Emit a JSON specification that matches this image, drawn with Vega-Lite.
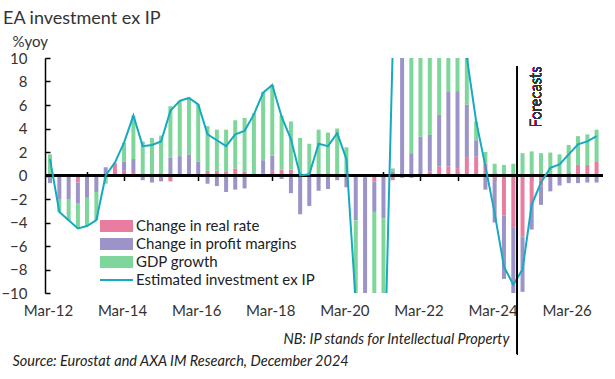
{
  "$schema": "https://vega.github.io/schema/vega-lite/v6.json",
  "width": 558,
  "height": 235,
  "autosize": "none",
  "padding": {"left": 45, "top": 58, "right": 12, "bottom": 86},
  "background": "white",
  "config": {"view": {"stroke": null}, "font": "Lato", "axis": {"grid": false, "labelOverlap": false}, "axisY": {"labelOverlap": false, "tickCount": 12, "values": [-10, -8, -6, -4, -2, 0, 2, 4, 6, 8, 10]}},
  "title": {"text": "EA investment ex IP", "anchor": "start", "frame": "group", "dx": -42, "dy": 21, "offset": 13, "baseline": "alphabetic", "fontSize": 18, "font": "Lato", "fontWeight": "normal", "color": "#333333"},
  "data": {"values": [
    {"t": "2012-03-01T00:00:00", "real": 0, "profit": -0.65, "gdp": 1.8, "inv": 1.4},
    {"t": "2012-06-01T00:00:00", "real": 0, "profit": -2.0, "gdp": -1.1, "inv": -3.1},
    {"t": "2012-09-01T00:00:00", "real": 0, "profit": -2.0, "gdp": -1.8, "inv": -3.8},
    {"t": "2012-12-01T00:00:00", "real": -0.6, "profit": -1.8, "gdp": -2.1, "inv": -4.5},
    {"t": "2013-03-01T00:00:00", "real": 0, "profit": -1.9, "gdp": -2.4, "inv": -4.3},
    {"t": "2013-06-01T00:00:00", "real": 0, "profit": -1.4, "gdp": -2.4, "inv": -3.8},
    {"t": "2013-09-01T00:00:00", "real": 0, "profit": 0.7, "gdp": -0.7, "inv": 0.0},
    {"t": "2013-12-01T00:00:00", "real": 1.0, "profit": 0, "gdp": 0.1, "inv": 1.1},
    {"t": "2014-03-01T00:00:00", "real": 0.4, "profit": 0.8, "gdp": 1.6, "inv": 2.8},
    {"t": "2014-06-01T00:00:00", "real": 0.3, "profit": 1.1, "gdp": 3.7, "inv": 5.1},
    {"t": "2014-09-01T00:00:00", "real": 0, "profit": -0.4, "gdp": 2.9, "inv": 2.5},
    {"t": "2014-12-01T00:00:00", "real": 0, "profit": -0.6, "gdp": 3.2, "inv": 2.6},
    {"t": "2015-03-01T00:00:00", "real": 0, "profit": -0.5, "gdp": 3.4, "inv": 2.9},
    {"t": "2015-06-01T00:00:00", "real": -0.5, "profit": 1.5, "gdp": 4.4, "inv": 5.5},
    {"t": "2015-09-01T00:00:00", "real": 0, "profit": 1.65, "gdp": 4.7, "inv": 6.35},
    {"t": "2015-12-01T00:00:00", "real": 0, "profit": 1.8, "gdp": 4.8, "inv": 6.6},
    {"t": "2016-03-01T00:00:00", "real": 0, "profit": 1.2, "gdp": 4.85, "inv": 6.05},
    {"t": "2016-06-01T00:00:00", "real": 0.4, "profit": -0.7, "gdp": 3.8, "inv": 3.5},
    {"t": "2016-09-01T00:00:00", "real": 0.4, "profit": -0.9, "gdp": 3.5, "inv": 3.0},
    {"t": "2016-12-01T00:00:00", "real": 0.3, "profit": -1.4, "gdp": 3.6, "inv": 2.5},
    {"t": "2017-03-01T00:00:00", "real": 0.6, "profit": -1.2, "gdp": 4.1, "inv": 3.5},
    {"t": "2017-06-01T00:00:00", "real": 0.35, "profit": -1.1, "gdp": 4.55, "inv": 3.8},
    {"t": "2017-09-01T00:00:00", "real": 0.1, "profit": -0.1, "gdp": 5.2, "inv": 5.2},
    {"t": "2017-12-01T00:00:00", "real": 0.2, "profit": 1.1, "gdp": 5.8, "inv": 7.05},
    {"t": "2018-03-01T00:00:00", "real": 0.4, "profit": 1.3, "gdp": 6.0, "inv": 7.7},
    {"t": "2018-06-01T00:00:00", "real": 0.5, "profit": -0.3, "gdp": 4.6, "inv": 5.0},
    {"t": "2018-09-01T00:00:00", "real": 0.5, "profit": -1.5, "gdp": 4.1, "inv": 3.1},
    {"t": "2018-12-01T00:00:00", "real": 0, "profit": -3.3, "gdp": 3.2, "inv": 0.0},
    {"t": "2019-03-01T00:00:00", "real": 0, "profit": -2.6, "gdp": 2.7, "inv": 0.1},
    {"t": "2019-06-01T00:00:00", "real": 0, "profit": -1.3, "gdp": 3.9, "inv": 2.7},
    {"t": "2019-09-01T00:00:00", "real": 0.2, "profit": -1.15, "gdp": 3.45, "inv": 2.5},
    {"t": "2019-12-01T00:00:00", "real": 0.2, "profit": -0.4, "gdp": 3.8, "inv": 3.6},
    {"t": "2020-03-01T00:00:00", "real": 0, "profit": -1.0, "gdp": 2.4, "inv": 1.4},
    {"t": "2020-06-01T00:00:00", "real": 0, "profit": -3.8, "gdp": -12, "inv": -10.8},
    {"t": "2020-09-01T00:00:00", "real": -0.2, "profit": -12, "gdp": -3, "inv": -15},
    {"t": "2020-12-01T00:00:00", "real": -0.5, "profit": -2.6, "gdp": -8, "inv": -11},
    {"t": "2021-03-01T00:00:00", "real": 0, "profit": -3.65, "gdp": -8, "inv": -20},
    {"t": "2021-06-01T00:00:00", "real": -0.4, "profit": 0.3, "gdp": 0.3, "inv": 11},
    {"t": "2021-09-01T00:00:00", "real": -0.2, "profit": 11, "gdp": 4, "inv": 20},
    {"t": "2021-12-01T00:00:00", "real": -0.2, "profit": 1.9, "gdp": 11, "inv": 15},
    {"t": "2022-03-01T00:00:00", "real": 0.1, "profit": 3.2, "gdp": 9, "inv": 12.3},
    {"t": "2022-06-01T00:00:00", "real": 0.35, "profit": 3.1, "gdp": 8, "inv": 12},
    {"t": "2022-09-01T00:00:00", "real": 0.77, "profit": 4.4, "gdp": 6.5, "inv": 12},
    {"t": "2022-12-01T00:00:00", "real": 0.77, "profit": 6.4, "gdp": 4.5, "inv": 12},
    {"t": "2023-03-01T00:00:00", "real": 0.63, "profit": 6.55, "gdp": 4.0, "inv": 11.2},
    {"t": "2023-06-01T00:00:00", "real": 1.5, "profit": 4.55, "gdp": 4.0, "inv": 10.05},
    {"t": "2023-09-01T00:00:00", "real": 1.6, "profit": 1.4, "gdp": 1.6, "inv": 4.6},
    {"t": "2023-12-01T00:00:00", "real": 1.0, "profit": -1.2, "gdp": 1.0, "inv": 0.8},
    {"t": "2024-03-01T00:00:00", "real": -0.3, "profit": -3.7, "gdp": 1.0, "inv": -3.2},
    {"t": "2024-06-01T00:00:00", "real": -3.4, "profit": -5.4, "gdp": 0.9, "inv": -7.75},
    {"t": "2024-09-01T00:00:00", "real": -4.4, "profit": -5.9, "gdp": 1.0, "inv": -9.3},
    {"t": "2024-12-01T00:00:00", "real": -5.2, "profit": -4.7, "gdp": 1.9, "inv": -8.0},
    {"t": "2025-03-01T00:00:00", "real": -2.5, "profit": -2.1, "gdp": 2.05, "inv": -2.5},
    {"t": "2025-06-01T00:00:00", "real": -0.95, "profit": -1.55, "gdp": 1.9, "inv": -0.6},
    {"t": "2025-09-01T00:00:00", "real": 0, "profit": -1.35, "gdp": 1.95, "inv": 0.65},
    {"t": "2025-12-01T00:00:00", "real": 0, "profit": -0.85, "gdp": 1.8, "inv": 0.95},
    {"t": "2026-03-01T00:00:00", "real": 0.2, "profit": -0.65, "gdp": 2.4, "inv": 1.8},
    {"t": "2026-06-01T00:00:00", "real": 0.9, "profit": -0.65, "gdp": 2.45, "inv": 2.65},
    {"t": "2026-09-01T00:00:00", "real": 0.9, "profit": -0.6, "gdp": 2.6, "inv": 2.9},
    {"t": "2026-12-01T00:00:00", "real": 1.15, "profit": -0.6, "gdp": 2.75, "inv": 3.35}
  ]},
  "resolve": {"axis": {"x": "independent"}},
  "layer": [
    {
      "transform": [{"fold": ["real", "profit", "gdp"], "as": ["k", "v"]}],
      "mark": {"type": "bar", "size": 4, "clip": true},
      "encoding": {
        "x": {"field": "t", "type": "temporal",
          "scale": {"domain": [{"year": 2012, "month": 3, "date": 1}, {"year": 2026, "month": 12, "date": 15}]},
          "axis": {"orient": "bottom", "domain": false, "ticks": false, "grid": false, "tickCount": 20,
            "values": [{"year": 2012, "month": 3, "date": 1}, {"year": 2014, "month": 3, "date": 1}, {"year": 2016, "month": 3, "date": 1}, {"year": 2018, "month": 3, "date": 1}, {"year": 2020, "month": 3, "date": 1}, {"year": 2022, "month": 3, "date": 1}, {"year": 2024, "month": 3, "date": 1}, {"year": 2026, "month": 3, "date": 1}],
            "format": "%b-%y", "labelFont": "Lato", "labelFontSize": 15, "labelColor": "#333333", "labelPadding": 10, "labelOffset": -2, "labelBaseline": "top",
            "title": "Source: Eurostat and AXA IM Research, December 2024", "titleX": -33, "titleY": 72, "titleAlign": "left", "titleAnchor": null, "titleBaseline": "alphabetic", "titleFont": "Lato", "titleFontStyle": "italic", "titleFontWeight": "normal", "titleFontSize": 14.5, "titleColor": "#222222"}},
        "y": {"field": "v", "type": "quantitative", "stack": "zero",
          "scale": {"domain": [-10, 10], "nice": false, "zero": false},
          "axis": {"values": [-10, -8, -6, -4, -2, 0, 2, 4, 6, 8, 10], "tickCount": 12, "labelOverlap": false, "domain": true, "domainColor": "black", "domainWidth": 1.5, "ticks": true, "tickSize": -5, "tickColor": "black", "tickWidth": 1.5, "labelFont": "Lato", "labelFontSize": 15, "labelColor": "#333333", "labelPadding": 23,
            "title": "%yoy", "titleAngle": 0, "titleX": -33, "titleY": -12, "titleAlign": "left", "titleAnchor": null, "titleBaseline": "alphabetic", "titleFont": "Lato", "titleFontSize": 15, "titleFontWeight": "normal", "titleColor": "#333333"}},
        "order": {"field": "k", "sort": "descending"},
        "color": {"field": "k", "type": "nominal",
          "scale": {"domain": ["real", "profit", "gdp", "inv"], "range": ["#E87DA0", "#9C93C8", "#7ED69A", "#17A9BF"]},
          "legend": {"orient": "none", "legendX": 61.5, "legendY": 158, "title": null, "padding": 0, "rowPadding": 0, "labelLimit": 400,
            "symbolType": "M-1.65,-0.6H1.65V0.6H-1.65Z", "symbolSize": 400, "symbolStrokeWidth": 0, "symbolOpacity": 1,
            "labelFont": "Lato", "labelFontSize": 15, "labelColor": "#222222", "labelOffset": 9.5,
            "labelExpr": "datum.value == 'real' ? 'Change in real rate' : datum.value == 'profit' ? 'Change in profit margins' : datum.value == 'gdp' ? 'GDP growth' : 'Estimated investment ex IP'",
            "encode": {"symbols": {"update": {"shape": {"signal": "datum.value == 'inv' ? 'M-1.65,-0.1H1.65V0.1H-1.65Z' : 'M-1.65,-0.6H1.65V0.6H-1.65Z'"}}}}}}
      }
    },
    {
      "mark": {"type": "rule", "color": "black", "strokeWidth": 1.5},
      "encoding": {"y": {"datum": 0}}
    },
    {
      "mark": {"type": "line", "strokeWidth": 2, "clip": true},
      "encoding": {
        "x": {"field": "t", "type": "temporal",
          "axis": {"orient": "top", "offset": -122.5, "labels": false, "domain": false, "grid": false, "ticks": true, "tickSize": 9, "tickColor": "black", "tickWidth": 1.5, "tickCount": 30,
            "values": [{"year": 2013, "month": 3, "date": 1}, {"year": 2014, "month": 3, "date": 1}, {"year": 2015, "month": 3, "date": 1}, {"year": 2016, "month": 3, "date": 1}, {"year": 2017, "month": 3, "date": 1}, {"year": 2018, "month": 3, "date": 1}, {"year": 2019, "month": 3, "date": 1}, {"year": 2020, "month": 3, "date": 1}, {"year": 2021, "month": 3, "date": 1}, {"year": 2022, "month": 3, "date": 1}, {"year": 2023, "month": 3, "date": 1}, {"year": 2024, "month": 3, "date": 1}, {"year": 2025, "month": 3, "date": 1}, {"year": 2026, "month": 3, "date": 1}],
            "title": "NB: IP stands for Intellectual Property", "titleX": 238, "titleY": 163, "titleAlign": "left", "titleAnchor": null, "titleBaseline": "alphabetic", "titleFont": "Lato", "titleFontStyle": "italic", "titleFontWeight": "normal", "titleFontSize": 14.5, "titleColor": "#222222"}},
        "y": {"field": "inv", "type": "quantitative", "axis": {"values": [-10, -8, -6, -4, -2, 0, 2, 4, 6, 8, 10], "tickCount": 12, "labelOverlap": false}},
        "color": {"datum": "inv"}
      }
    },
    {
      "mark": {"type": "rule", "color": "black", "strokeWidth": 1},
      "encoding": {
        "x": {"datum": {"year": 2024, "month": 10, "date": 12}, "type": "temporal", "axis": null},
        "y": {"datum": 9.3},
        "y2": {"datum": -15.2}
      }
    },
    {
      "mark": {"type": "text", "text": "Forecasts", "angle": 270, "align": "right", "baseline": "middle", "font": "Lato", "fontSize": 15, "fontWeight": 300, "color": "#333333"},
      "encoding": {
        "x": {"datum": {"year": 2025, "month": 4, "date": 15}, "type": "temporal", "axis": null},
        "y": {"datum": 9.28}
      }
    }
  ]
}
